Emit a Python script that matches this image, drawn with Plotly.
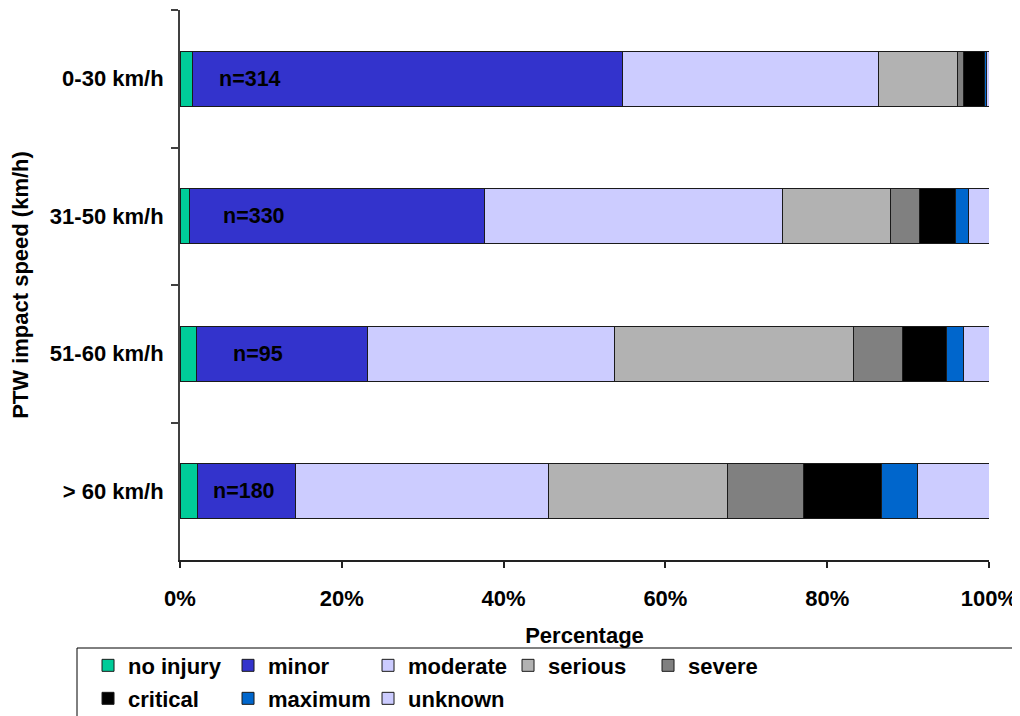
import plotly.graph_objects as go

categories = ["0-30 km/h", "31-50 km/h", "51-60 km/h", "> 60 km/h"]
sample_sizes = [314, 330, 95, 180]

no_injury = [1.5, 1.2, 2.0, 2.2]
minor = [53.2, 36.4, 21.2, 12.1]
moderate = [31.6, 36.9, 30.5, 31.3]
serious = [9.8, 13.3, 29.5, 22.1]
severe = [0.8, 3.6, 6.1, 9.4]
critical = [2.5, 4.4, 5.5, 9.6]
maximum = [0.3, 1.7, 2.0, 4.4]
unknown = [0.3, 2.5, 3.2, 8.9]

x_ticks = [0, 20, 40, 60, 80, 100]
x_tick_labels = ["0%", "20%", "40%", "60%", "80%", "100%"]

series = [
    ("no injury", no_injury, "#00CC99", "legend"),
    ("minor", minor, "#3333CC", "legend"),
    ("moderate", moderate, "#CCCCFF", "legend"),
    ("serious", serious, "#B2B2B2", "legend"),
    ("severe", severe, "#808080", "legend"),
    ("critical", critical, "#000000", "legend2"),
    ("maximum", maximum, "#0066CC", "legend2"),
    ("unknown", unknown, "#CCCCFF", "legend2"),
]

label_x = [8.6, 9.15, 9.7, 7.95]

FONT = "Liberation Sans, Arial, sans-serif"
FS = 22

fig = go.Figure()
for name, vals, col, leg in series:
    fig.add_trace(go.Bar(
        y=categories, x=vals, orientation="h", name=name, legend=leg,
        marker=dict(color=col, line=dict(color="#1a1a1a", width=1)),
    ))

for cat, n, lx in zip(categories, sample_sizes, label_x):
    fig.add_annotation(x=lx, y=cat, text=f"n={n}", showarrow=False,
                       xref="x", yref="y",
                       font=dict(family=FONT, size=21.5, color="#000000", weight="bold"))

# legend frame
fig.add_shape(type="rect", xref="paper", yref="paper",
              x0=-0.1273, x1=1.0321, y0=-0.16, y1=-0.32,
              line=dict(color="#000000", width=1), fillcolor="rgba(0,0,0,0)")

leg_common = dict(
    orientation="h", xanchor="left", yanchor="top",
    borderwidth=0, bgcolor="rgba(0,0,0,0)",
    entrywidth=95, traceorder="normal",
    font=dict(family=FONT, size=FS, weight="bold"),
)

fig.update_layout(
    width=1020, height=716,
    margin=dict(l=172, r=39, t=2, b=164),
    paper_bgcolor="white", plot_bgcolor="white",
    barmode="stack", bargap=0.6,
    font=dict(family=FONT, size=FS, color="#000000", weight="bold"),
    showlegend=True,
    legend=dict(x=-0.1137, y=-0.1537, **leg_common),
    legend2=dict(x=-0.1137, y=-0.2137, **leg_common),
    xaxis=dict(
        range=[0, 100], tickmode="array", tickvals=x_ticks, ticktext=x_tick_labels,
        ticks="outside", ticklen=6, tickcolor="#222222", tickwidth=1.5,
        showline=True, linecolor="#222222", linewidth=1.5,
        showgrid=False, zeroline=False, ticklabelstandoff=12, automargin=False,
        tickfont=dict(family=FONT, size=FS, weight="bold"),
        title=dict(text="Percentage", standoff=17,
                   font=dict(family=FONT, size=FS, weight="bold")),
    ),
    yaxis=dict(
        type="category", categoryorder="array", categoryarray=categories,
        autorange="reversed", tickson="boundaries",
        ticks="outside", ticklen=7, tickcolor="#404040", tickwidth=1.5,
        showline=True, linecolor="#404040", linewidth=2,
        showgrid=False, zeroline=False, ticklabelstandoff=10, automargin=False,
        tickfont=dict(family=FONT, size=FS, weight="bold"),
        title=dict(text="PTW impact speed (km/h)", standoff=23,
                   font=dict(family=FONT, size=FS, weight="bold")),
    ),
)

fig.write_html("out.html")
